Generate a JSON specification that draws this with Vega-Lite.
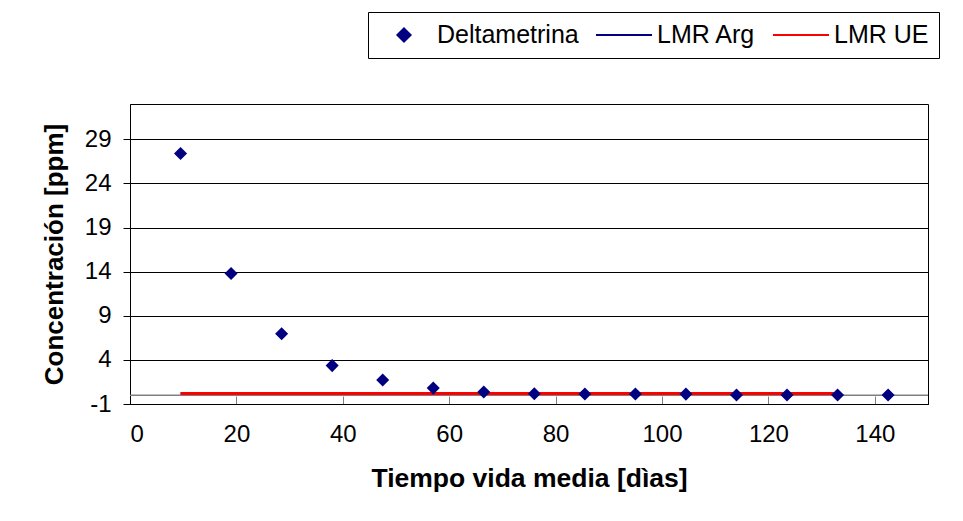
{
  "$schema": "https://vega.github.io/schema/vega-lite/v6.json",
  "width": 798,
  "height": 300,
  "autosize": {"type": "none"},
  "padding": {"left": 130, "top": 104, "right": 35, "bottom": 117},
  "background": "white",
  "config": {
    "font": "Liberation Sans",
    "view": {"stroke": "black", "strokeWidth": 1},
    "axis": {"labelFont": "Liberation Sans", "titleFont": "Liberation Sans", "labelColor": "black", "titleColor": "black"}
  },
  "datasets": {
    "puntos": [
      {"serie": "Deltametrina", "dias": 9.5, "ppm": 27.4},
      {"serie": "Deltametrina", "dias": 19, "ppm": 13.8},
      {"serie": "Deltametrina", "dias": 28.5, "ppm": 6.95},
      {"serie": "Deltametrina", "dias": 38, "ppm": 3.35},
      {"serie": "Deltametrina", "dias": 47.5, "ppm": 1.73},
      {"serie": "Deltametrina", "dias": 57, "ppm": 0.8},
      {"serie": "Deltametrina", "dias": 66.5, "ppm": 0.35},
      {"serie": "Deltametrina", "dias": 76, "ppm": 0.15},
      {"serie": "Deltametrina", "dias": 85.5, "ppm": 0.14},
      {"serie": "Deltametrina", "dias": 95, "ppm": 0.13},
      {"serie": "Deltametrina", "dias": 104.5, "ppm": 0.12},
      {"serie": "Deltametrina", "dias": 114, "ppm": 0.03},
      {"serie": "Deltametrina", "dias": 123.5, "ppm": 0.02},
      {"serie": "Deltametrina", "dias": 133, "ppm": 0.02},
      {"serie": "Deltametrina", "dias": 142.5, "ppm": 0.01}
    ],
    "limites": [
      {"serie": "LMR Arg", "dias": 9.5, "ppm": 0.2},
      {"serie": "LMR Arg", "dias": 133, "ppm": 0.2},
      {"serie": "LMR UE", "dias": 9.5, "ppm": 0.2},
      {"serie": "LMR UE", "dias": 133, "ppm": 0.2}
    ],
    "cero": [{"ppm": 0}]
  },
  "layer": [
    {
      "data": {"name": "puntos"},
      "mark": {"type": "point", "shape": "diamond", "filled": true, "size": 0, "opacity": 0},
      "encoding": {
        "x": {
          "field": "dias", "type": "quantitative",
          "scale": {"domain": [0, 150], "nice": false, "zero": false},
          "axis": {
            "values": [0, 20, 40, 60, 80, 100, 120, 140],
            "grid": false,
            "domainColor": "black",
            "tickSize": -8,
            "tickColor": "#808080",
            "labelFontSize": 24,
            "labelPadding": 26,
            "title": "Tiempo vida media [dìas]",
            "titleFontSize": 26.5,
            "titleFontWeight": "bold",
            "titlePadding": 19
          }
        },
        "y": {
          "field": "ppm", "type": "quantitative",
          "scale": {"domain": [-1, 33], "nice": false, "zero": false},
          "axis": {
            "values": [-1, 4, 9, 14, 19, 24, 29],
            "labelExpr": "datum.value + ''",
            "grid": true,
            "gridColor": "black",
            "gridOpacity": 1,
            "domainColor": "black",
            "tickSize": 7,
            "tickColor": "black",
            "labelFontSize": 24,
            "labelPadding": 12,
            "title": "Concentración [ppm]",
            "titleFontSize": 26,
            "titleFontWeight": "bold",
            "titlePadding": 17
          }
        },
        "color": {
          "field": "serie", "type": "nominal",
          "scale": {"domain": ["Deltametrina", "LMR Arg", "LMR UE"], "range": ["#000080", "#000080", "#FF0000"]},
          "legend": {
            "title": null,
            "orient": "none",
            "legendX": 238,
            "legendY": -92,
            "direction": "horizontal",
            "columns": 3,
            "strokeColor": "black",
            "fillColor": "white",
            "padding": 10,
            "labelFont": "Liberation Sans",
            "labelFontSize": 25,
            "labelColor": "black",
            "labelLimit": 400,
            "symbolSize": 576,
            "symbolStrokeWidth": 2,
            "labelOffset": 33,
            "columnPadding": 13,
            "encode": {
              "symbols": {
                "update": {
                  "shape": {"signal": "datum.value === 'Deltametrina' ? 'M1.083,-0.55L1.633,0L1.083,0.55L0.533,0Z' : 'M-1.25,0H3.417'"},
                  "fill": {"signal": "datum.value === 'Deltametrina' ? '#000080' : 'transparent'"},
                  "stroke": {"signal": "datum.value === 'LMR UE' ? '#FF0000' : '#000080'"},
                  "opacity": {"value": 1}
                }
              }
            }
          }
        }
      }
    },
    {
      "data": {"name": "cero"},
      "mark": {"type": "rule", "color": "#808080", "strokeWidth": 1.5},
      "encoding": {
        "y": {"field": "ppm", "type": "quantitative"}
      }
    },
    {
      "data": {"name": "limites"},
      "transform": [{"filter": "datum.serie === 'LMR Arg'"}],
      "mark": {"type": "line", "strokeWidth": 1.5},
      "encoding": {
        "x": {"field": "dias", "type": "quantitative"},
        "y": {"field": "ppm", "type": "quantitative"},
        "color": {"field": "serie", "type": "nominal"}
      }
    },
    {
      "data": {"name": "limites"},
      "transform": [{"filter": "datum.serie === 'LMR UE'"}],
      "mark": {"type": "line", "strokeWidth": 3},
      "encoding": {
        "x": {"field": "dias", "type": "quantitative"},
        "y": {"field": "ppm", "type": "quantitative"},
        "color": {"field": "serie", "type": "nominal"}
      }
    },
    {
      "data": {"name": "puntos"},
      "mark": {"type": "point", "shape": "diamond", "filled": true, "size": 170, "opacity": 1},
      "encoding": {
        "x": {"field": "dias", "type": "quantitative"},
        "y": {"field": "ppm", "type": "quantitative"},
        "color": {"field": "serie", "type": "nominal"}
      }
    }
  ]
}
